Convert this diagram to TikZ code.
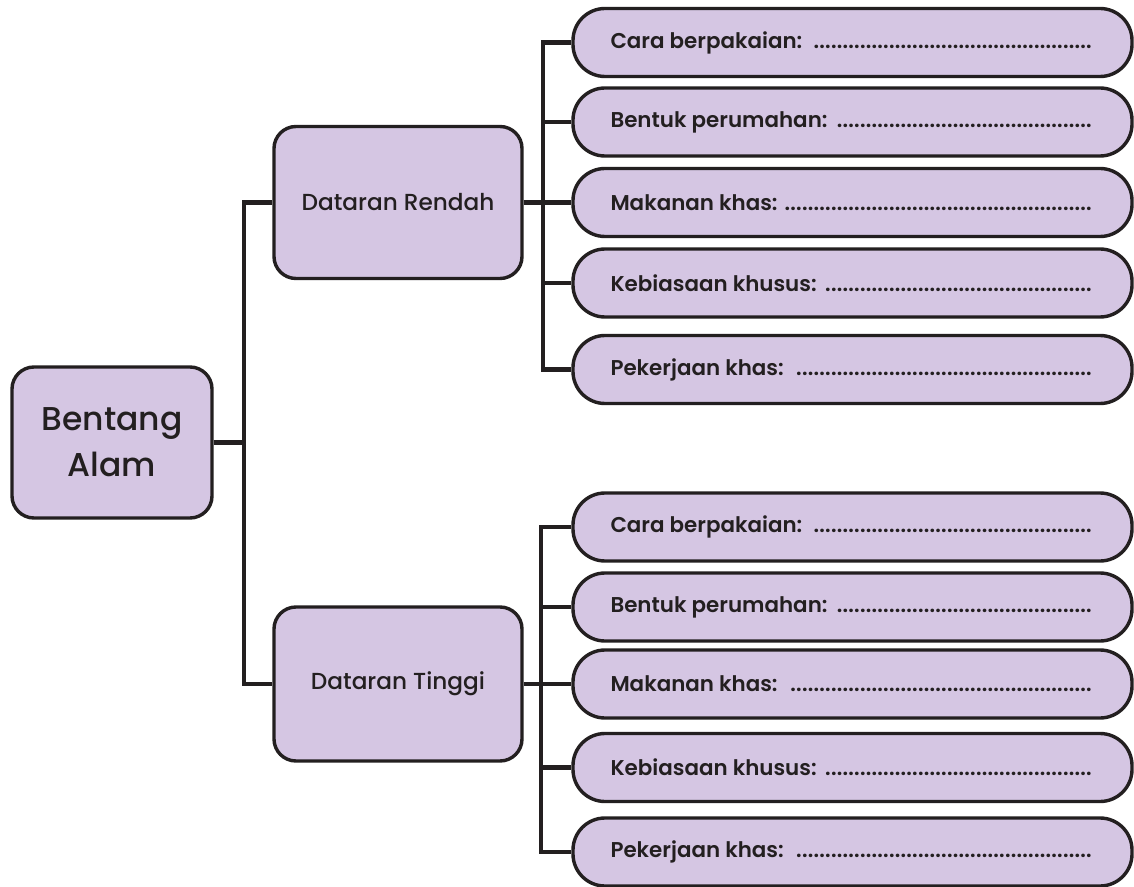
\documentclass[tikz,border=0pt]{standalone}
\usepackage{fontspec}
\setmainfont{Poppins}
\IfFontExistsTF{Poppins SemiBold}
  {\newfontfamily\leaffont{Poppins SemiBold}}
  {\newfontfamily\leaffont{Poppins}[UprightFont=*-Bold]}
\IfFontExistsTF{Poppins Medium}
  {\newfontfamily\midfont{Poppins Medium}}
  {\newfontfamily\midfont{Poppins}}
\definecolor{lav}{RGB}{213,198,227}
\definecolor{ink}{RGB}{35,31,32}
\newcommand{\dotline}[1]{\makebox[242pt][l]{#1\leaders\hbox to 2.9pt{\hss.\hss}\hfill}}
\tikzset{
  box/.style={draw=ink, line width=1.7pt, fill=lav, rounded corners=11pt, inner sep=0pt, text=ink},
  midbox/.style={box, minimum width=124pt, minimum height=76pt, font=\midfont\fontsize{11.6}{14}\selectfont},
  leafbox/.style={box, minimum width=279.5pt, minimum height=34pt, rounded corners=16pt, font=\leaffont\fontsize{10.7}{12}\selectfont},
  conn/.style={draw=ink, line width=2.3pt}
}
\begin{document}
\begin{tikzpicture}[x=0.5pt,y=-0.5pt]
\fill[white] (0,0) rectangle (1134,887);
\useasboundingbox (0,0) rectangle (1134,887);
\coordinate (sr) at (244,0);
\coordinate (sa) at (543,0);
\coordinate (sb) at (541,0);
\node[box, minimum width=100pt, minimum height=75.5pt, align=center, font=\midfont\fontsize{16.5}{23}\selectfont] (root) at (112,442.5) {Bentang\\Alam};
\node[midbox] (dr) at (398,202.5) {Dataran Rendah};
\node[midbox, minimum height=77pt] (dt) at (398,684) {Dataran Tinggi};
\node[leafbox] (a1) at (852.5,42.5) {\dotline{Cara berpakaian: }};
\node[leafbox] (a2) at (852.5,122) {\dotline{Bentuk perumahan: }};
\node[leafbox] (a3) at (852.5,202.5) {\dotline{Makanan khas: }};
\node[leafbox] (a4) at (852.5,283) {\dotline{Kebiasaan khusus: }};
\node[leafbox] (a5) at (852.5,369.5) {\dotline{Pekerjaan khas: }};
\node[leafbox] (b1) at (852.5,527) {\dotline{Cara berpakaian: }};
\node[leafbox] (b2) at (852.5,607) {\dotline{Bentuk perumahan: }};
\node[leafbox] (b3) at (852.5,684) {\dotline{Makanan khas:\ \ }};
\node[leafbox] (b4) at (852.5,767.5) {\dotline{Kebiasaan khusus: }};
\node[leafbox] (b5) at (852.5,852) {\dotline{Pekerjaan khas: }};
% root spine
\draw[conn] (root.east) -- (root.east -| sr);
\draw[conn] (dr.west) -- (dr.west -| sr) -- (dt.west -| sr) -- (dt.west);
% upper spine
\draw[conn] (a1.west) -- (a1.west -| sa) -- (a5.west -| sa) -- (a5.west);
\draw[conn] (a2.west -| sa) -- (a2.west);
\draw[conn] (a4.west -| sa) -- (a4.west);
\draw[conn] (dr.east) -- (a3.west);
% lower spine
\draw[conn] (b1.west) -- (b1.west -| sb) -- (b5.west -| sb) -- (b5.west);
\draw[conn] (b2.west -| sb) -- (b2.west);
\draw[conn] (b4.west -| sb) -- (b4.west);
\draw[conn] (dt.east) -- (b3.west);
\end{tikzpicture}
\end{document}
